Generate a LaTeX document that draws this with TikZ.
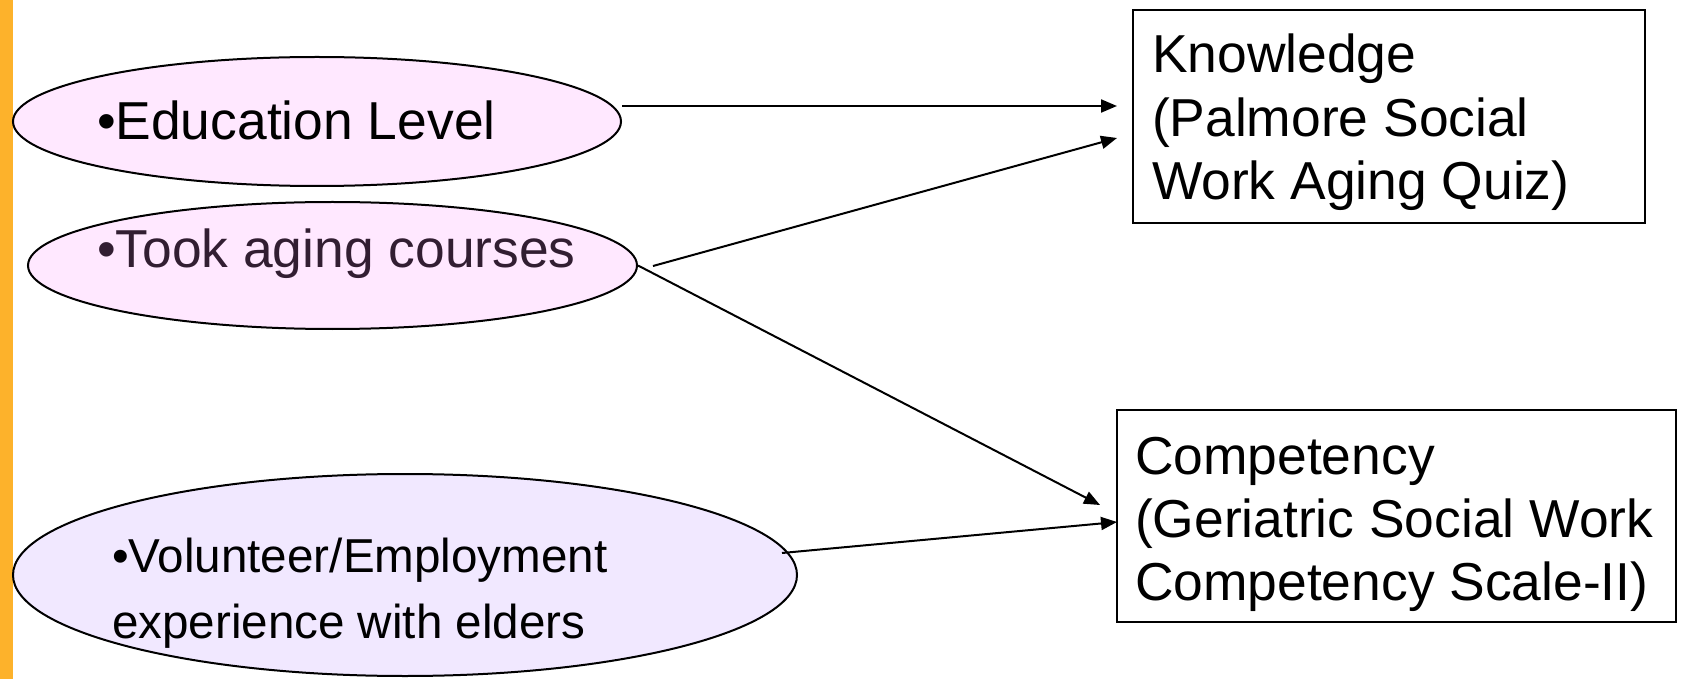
\documentclass[tikz,border=0pt]{standalone}
\usepackage{fontspec}
\setmainfont{Liberation Sans}
\usetikzlibrary{shapes.geometric,arrows.meta}
\definecolor{barorange}{RGB}{253,178,43}
\definecolor{pinkfill}{RGB}{255,232,255}
\definecolor{lavfill}{RGB}{241,232,255}
\definecolor{tookcol}{RGB}{50,30,50}
\tikzset{
  oval/.style={ellipse,draw=black,line width=1pt,inner sep=0pt},
  measure/.style={rectangle,draw=black,line width=1.3pt,inner sep=0pt,fill=white},
  bigtext/.style={anchor=base west,inner sep=0pt,outer sep=0pt,font=\fontsize{26.7}{32}\selectfont},
  midtext/.style={anchor=base west,inner sep=0pt,outer sep=0pt,font=\fontsize{23.8}{28.5}\selectfont},
  link/.style={line width=1pt,-{Triangle[length=8pt,width=6.5pt]}}
}
\begin{document}
\begin{tikzpicture}[x=0.5pt,y=-0.5pt]
\useasboundingbox (0,0) rectangle (1681,679);
\fill[white] (0,0) rectangle (1681,679);
\fill[barorange] (0,0) rectangle (13,679);

% ellipses
\node[oval,fill=pinkfill,minimum width=304pt,minimum height=64.5pt] (e1) at (317,121.5) {};
\node[oval,fill=pinkfill,minimum width=304.5pt,minimum height=63.5pt] (e2) at (332.5,265.5) {};
\node[oval,fill=lavfill,minimum width=392pt,minimum height=101pt] (e3) at (405,575) {};

% ellipse texts
\node[bigtext] (t1) at (97,140) {•Education Level};
\node[bigtext,text=tookcol] (t2) at (97,268) {•Took aging courses};
\node[midtext] (t3a) at (112,572) {•Volunteer/Employment};
\node[midtext] (t3b) at (112,638) {experience with elders};

% boxes
\node[measure,minimum width=256pt,minimum height=106.5pt] (k) at (1389,116.5) {};
\node[measure,minimum width=279.5pt,minimum height=106pt] (c) at (1396.5,516) {};

\node[bigtext] (k1) at (1152,73) {Knowledge};
\node[bigtext] (k2) at (1152,137) {(Palmore Social};
\node[bigtext] (k3) at (1152,200) {Work Aging Quiz)};

\node[bigtext] (c1) at (1135,474) {Competency};
\node[bigtext] (c2) at (1135,537) {(Geriatric Social Work};
\node[bigtext] (c3) at (1135,600) {Competency Scale-II)};

% connector ends
\coordinate (a1s) at (622,106);
\coordinate (a1e) at (1117,106);
\coordinate (a2s) at (653,266);
\coordinate (a2e) at (1117,138);
\coordinate (a3e) at (1100,505);
\coordinate (a4s) at (782,553);
\coordinate (a4e) at (1117,522);

\draw[link] (a1s) -- (a1e);
\draw[link] (a2s) -- (a2e);
\draw[link] (e2.east) -- (a3e);
\draw[link] (a4s) -- (a4e);
\end{tikzpicture}
\end{document}
